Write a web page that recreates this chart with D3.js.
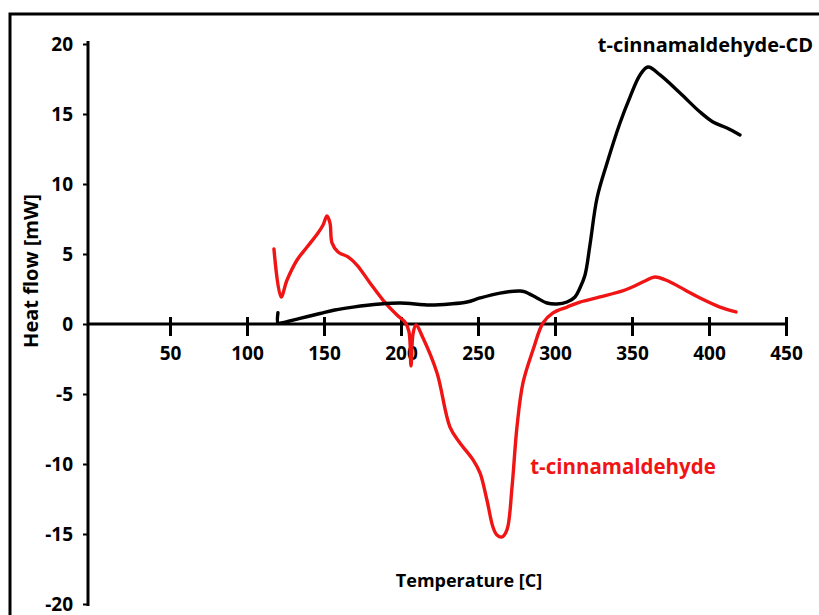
<!DOCTYPE html>
<html>
<head>
<meta charset="utf-8">
<script src="https://cdn.jsdelivr.net/npm/d3@7"></script>
<style>
  html, body { margin: 0; padding: 0; background: #fff; }
  svg { display: block; }
  text { font-family: "Open Sans", Lato, sans-serif; font-weight: bold; }
</style>
</head>
<body>
<svg id="chart" width="819" height="615"></svg>
<script>
// ---- data ----
const xTicks = [50, 100, 150, 200, 250, 300, 350, 400, 450];
const yTicks = [20, 15, 10, 5, 0, -5, -10, -15, -20];

// t-cinnamaldehyde-CD (black)
const cdTemp = [120.1, 120.1, 122.1, 134.4, 147.4, 157.0, 168.8, 186.4, 199.4, 218.8, 231.8, 242.9, 251.3, 264.3, 277.3, 280.5, 288.3, 294.8, 301.3, 307.8, 313.0, 316.2, 319.5, 322.7, 327.3, 333.8, 342.2, 348.7, 355.2, 360.4, 368.2, 381.2, 394.2, 402.6, 411.7, 420.1];
const cdHeat = [0.8, 0.07, 0.07, 0.4, 0.75, 1.0, 1.21, 1.43, 1.5, 1.36, 1.43, 1.57, 1.86, 2.21, 2.36, 2.29, 1.86, 1.5, 1.43, 1.57, 1.93, 2.57, 3.5, 5.64, 9.0, 11.5, 14.36, 16.21, 17.79, 18.36, 17.79, 16.5, 15.14, 14.43, 14.0, 13.5];

// t-cinnamaldehyde (red)
const tcTemp = [117.5, 122.1, 126.0, 132.5, 139.0, 146.1, 149.4, 151.9, 153.9, 155.2, 159.1, 165.6, 171.4, 179.9, 188.3, 197.4, 202.6, 205.2, 206.5, 207.8, 209.7, 214.3, 223.4, 231.8, 238.3, 246.8, 251.3, 255.8, 259.7, 262.3, 265.6, 268.8, 272.1, 275.3, 279.2, 285.7, 292.2, 298.7, 307.8, 316.2, 329.2, 345.5, 358.4, 364.9, 373.4, 384.4, 394.2, 407.1, 417.5];
const tcHeat = [5.36, 1.93, 3.14, 4.57, 5.5, 6.5, 7.07, 7.71, 7.21, 5.79, 5.14, 4.79, 4.21, 2.93, 1.71, 0.64, 0.14, -0.57, -3.0, -0.71, -0.07, -1.0, -3.5, -7.36, -8.5, -9.71, -10.64, -12.57, -14.5, -15.07, -15.21, -14.71, -11.64, -7.36, -4.21, -1.86, 0.07, 0.79, 1.21, 1.57, 1.93, 2.43, 3.07, 3.36, 3.07, 2.43, 1.86, 1.21, 0.86];

// ---- drawing ----
const svg = d3.select("#chart");
const FONT = "'Open Sans', Lato, sans-serif";

// outer frame (right and bottom edges fall outside the picture)
svg.append("rect")
  .attr("x", 10).attr("y", 14)
  .attr("width", 820).attr("height", 620)
  .attr("fill", "none").attr("stroke", "#000").attr("stroke-width", 3);

const x = d3.scaleLinear().domain([0, 450]).range([93, 786]);
const y = d3.scaleLinear().domain([-20, 20]).range([604, 44]);
const axisX = 88;
const fmt = d => String(d);

// y axis
const yAxis = svg.append("g").attr("transform", `translate(${axisX},0)`)
  .call(d3.axisLeft(y).tickValues(yTicks).tickSize(5).tickPadding(10).tickFormat(fmt));
yAxis.select(".domain").remove();
yAxis.selectAll(".tick line").attr("stroke", "#000").attr("stroke-width", 2);
yAxis.selectAll(".tick text").attr("font-size", 19).attr("fill", "#000").attr("dy", "0.32em")
  .attr("font-family", FONT).attr("font-weight", "bold");
svg.append("line").attr("x1", axisX).attr("x2", axisX)
  .attr("y1", y(20) - 3).attr("y2", y(-20) + 2)
  .attr("stroke", "#000").attr("stroke-width", 3);

// x axis
const xAxis = svg.append("g").attr("transform", `translate(0,${y(0)})`)
  .call(d3.axisBottom(x).tickValues(xTicks).tickSize(0).tickFormat(fmt));
xAxis.select(".domain").remove();
xAxis.selectAll(".tick line").attr("y1", -7).attr("y2", 12).attr("stroke", "#000").attr("stroke-width", 3);
xAxis.selectAll(".tick text").attr("y", 23).attr("dy", "0.71em").attr("font-size", 19).attr("fill", "#000")
  .attr("font-family", FONT).attr("font-weight", "bold");
svg.append("line").attr("x1", axisX).attr("x2", 787)
  .attr("y1", y(0)).attr("y2", y(0))
  .attr("stroke", "#000").attr("stroke-width", 3);

// curves
const line = d3.line()
  .x(d => x(d[0])).y(d => y(d[1]))
  .curve(d3.curveCatmullRom.alpha(0.5));

const cdData = cdTemp.map((t, i) => [t, cdHeat[i]]);
const tcData = tcTemp.map((t, i) => [t, tcHeat[i]]);

svg.append("path").datum(tcData).attr("d", line)
  .attr("fill", "none").attr("stroke", "#f01414").attr("stroke-width", 3.4)
  .attr("stroke-linejoin", "round").attr("stroke-linecap", "round");

svg.append("path").datum(cdData).attr("d", line)
  .attr("fill", "none").attr("stroke", "#000").attr("stroke-width", 3.4)
  .attr("stroke-linejoin", "round").attr("stroke-linecap", "round");

// labels
svg.append("text").attr("x", 813).attr("y", 52).attr("text-anchor", "end")
  .attr("font-size", 20).attr("fill", "#000").text("t-cinnamaldehyde-CD");
svg.append("text").attr("x", 623).attr("y", 474).attr("text-anchor", "middle")
  .attr("font-size", 20.5).attr("fill", "#f01414").text("t-cinnamaldehyde");
svg.append("text").attr("x", 469).attr("y", 587).attr("text-anchor", "middle")
  .attr("font-size", 18).attr("fill", "#000").text("Temperature [C]");
svg.append("text").attr("transform", "translate(38,271) rotate(-90)").attr("text-anchor", "middle")
  .attr("font-size", 20).attr("fill", "#000").text("Heat flow [mW]");
</script>
</body>
</html>
